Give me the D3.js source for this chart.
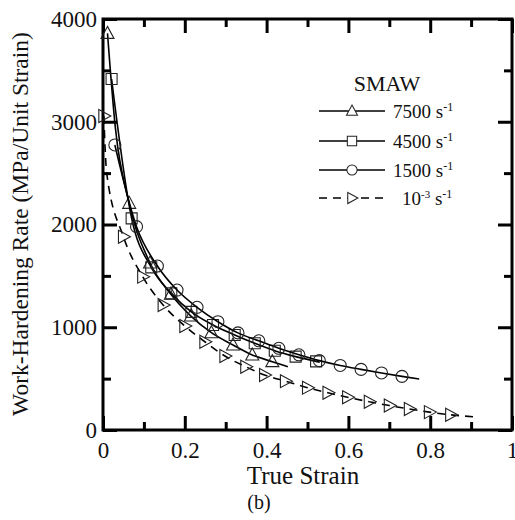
<!DOCTYPE html>
<html>
<head>
<meta charset="utf-8">
<script src="https://cdn.jsdelivr.net/npm/d3@7"></script>
<style>
body { margin: 0; background: #fff; }
text { font-family: "Liberation Serif", "Times New Roman", serif; fill: #111; }
</style>
</head>
<body>
<div id="chart"></div>
<script>
// values: [true strain, work-hardening rate]
var line7500 = [[0.011,3860],[0.03,2950],[0.064,2206],[0.115,1625],[0.166,1321],[0.215,1109],[0.265,947],[0.318,827],[0.365,730],[0.414,665],[0.452,615]];
var marks7500 = [[0.011,3860],[0.064,2206],[0.115,1625],[0.166,1321],[0.215,1109],[0.265,947],[0.318,827],[0.365,730],[0.414,665]];

var line4500 = [[0.021,3416],[0.07,2060],[0.118,1583],[0.167,1330],[0.216,1150],[0.269,1022],[0.322,925],[0.371,844],[0.42,772],[0.471,714],[0.521,668],[0.53,660]];
var marks4500 = [[0.021,3416],[0.07,2060],[0.118,1583],[0.167,1330],[0.216,1150],[0.269,1022],[0.322,925],[0.371,844],[0.42,772],[0.471,714],[0.521,668]];

var line1500 = [[0.029,2774],[0.082,1979],[0.133,1596],[0.181,1362],[0.23,1194],[0.281,1054],[0.33,945],[0.381,868],[0.43,795],[0.479,732],[0.529,675],[0.58,628],[0.631,590],[0.681,555],[0.731,522],[0.773,496]];
var marks1500 = [[0.029,2774],[0.082,1979],[0.133,1596],[0.181,1362],[0.23,1194],[0.281,1054],[0.33,945],[0.381,868],[0.43,795],[0.479,732],[0.529,675],[0.58,628],[0.631,590],[0.681,555],[0.731,522]];

var lineQs = [[0.002,3056],[0.009,2500],[0.05,1881],[0.097,1492],[0.147,1217],[0.2,1012],[0.249,859],[0.298,720],[0.349,616],[0.395,535],[0.446,475],[0.5,412],[0.55,362],[0.598,318],[0.651,275],[0.7,238],[0.749,204],[0.798,174],[0.85,148],[0.907,128]];
var marksQs = [[0.002,3056],[0.05,1881],[0.097,1492],[0.147,1217],[0.2,1012],[0.249,859],[0.298,720],[0.349,616],[0.395,535],[0.446,475],[0.5,412],[0.55,362],[0.598,318],[0.651,275],[0.7,238],[0.749,204],[0.798,174],[0.85,148]];

var xTicks = [0, 0.2, 0.4, 0.6, 0.8, 1];
var xTickLabels = ["0", "0.2", "0.4", "0.6", "0.8", "1"];
var xMinor = [0.1, 0.3, 0.5, 0.7, 0.9];
var yTicks = [0, 1000, 2000, 3000, 4000];
var yMinor = [500, 1500, 2500, 3500];

var legendRates = ["7500", "4500", "1500", "10"];

var svg = d3.select("#chart").append("svg")
	.attr("width", 515)
	.attr("height", 520);

var margin = {top: 19, left: 103},
	width = 409,
	height = 411;

var x = d3.scaleLinear().domain([0, 1]).range([0, width]);
var y = d3.scaleLinear().domain([0, 4000]).range([height, 0]);

var g = svg.append("g")
	.attr("transform", "translate(" + margin.left + "," + margin.top + ")");

// axes: inward ticks on all four sides
function styleAxis(sel) {
	sel.attr("font-family", null).attr("font-size", null);
	sel.select(".domain").remove();
	sel.selectAll(".tick line").attr("stroke", "#000").attr("stroke-width", 3);
	sel.selectAll("text")
		.style("font-family", '"Liberation Serif", serif')
		.style("font-size", "23px")
		.attr("fill", "#111");
}

g.append("g").attr("transform", "translate(0," + height + ")")
	.call(d3.axisBottom(x).tickValues(xTicks).tickSize(-14).tickPadding(12)
		.tickFormat(function(d, i) { return xTickLabels[i]; }))
	.call(styleAxis);
g.append("g").attr("transform", "translate(0," + height + ")")
	.call(d3.axisBottom(x).tickValues(xMinor).tickSize(-8).tickFormat(""))
	.call(styleAxis);
g.append("g")
	.call(d3.axisTop(x).tickValues(xTicks).tickSize(-14).tickFormat(""))
	.call(styleAxis);
g.append("g")
	.call(d3.axisTop(x).tickValues(xMinor).tickSize(-8).tickFormat(""))
	.call(styleAxis);

g.append("g")
	.call(d3.axisLeft(y).tickValues(yTicks).tickSize(-14).tickPadding(6).tickFormat(d3.format("d")))
	.call(styleAxis);
g.append("g")
	.call(d3.axisLeft(y).tickValues(yMinor).tickSize(-8).tickFormat(""))
	.call(styleAxis);
g.append("g").attr("transform", "translate(" + width + ",0)")
	.call(d3.axisRight(y).tickValues(yTicks).tickSize(-14).tickFormat(""))
	.call(styleAxis);
g.append("g").attr("transform", "translate(" + width + ",0)")
	.call(d3.axisRight(y).tickValues(yMinor).tickSize(-8).tickFormat(""))
	.call(styleAxis);

g.append("rect")
	.attr("width", width)
	.attr("height", height)
	.attr("fill", "none")
	.attr("stroke", "#000")
	.attr("stroke-width", 3);

// curves
var line = d3.line()
	.x(function(d) { return x(d[0]); })
	.y(function(d) { return y(d[1]); })
	.curve(d3.curveMonotoneX);

var series = [
	{line: line7500, marks: marks7500, shape: "tri", dash: null},
	{line: line4500, marks: marks4500, shape: "sq", dash: null},
	{line: line1500, marks: marks1500, shape: "circ", dash: null},
	{line: lineQs, marks: marksQs, shape: "right", dash: "8,6"}
];

function markerPath(shape) {
	if (shape === "tri") return "M0,-7L6.5,5L-6.5,5Z";
	if (shape === "sq") return "M-5.5,-5.5H5.5V5.5H-5.5Z";
	if (shape === "right") return "M-5,-6.5L7,0L-5,6.5Z";
	return d3.symbol().type(d3.symbolCircle).size(Math.PI * 36)();
}

series.forEach(function(s) {
	g.append("path")
		.datum(s.line)
		.attr("fill", "none")
		.attr("stroke", "#000")
		.attr("stroke-width", 1.6)
		.attr("stroke-dasharray", s.dash)
		.attr("d", line);

	g.selectAll(null)
		.data(s.marks)
		.enter().append("path")
		.attr("transform", function(d) { return "translate(" + x(d[0]) + "," + y(d[1]) + ")"; })
		.attr("d", markerPath(s.shape))
		.attr("fill", "none")
		.attr("stroke", "#222")
		.attr("stroke-width", 1.1);
});

// legend
var lg = svg.append("g");
lg.append("text")
	.attr("x", 387).attr("y", 91)
	.attr("text-anchor", "middle")
	.style("font-size", "22px")
	.text("SMAW");

var rowY = [111, 141, 170, 198];
series.forEach(function(s, i) {
	lg.append("line")
		.attr("x1", 319).attr("x2", 385)
		.attr("y1", rowY[i]).attr("y2", rowY[i])
		.attr("stroke", "#000")
		.attr("stroke-width", 1.4)
		.attr("stroke-dasharray", s.dash);
	lg.append("path")
		.attr("transform", "translate(352," + rowY[i] + ") scale(0.85)")
		.attr("d", markerPath(s.shape))
		.attr("fill", "#fff")
		.attr("stroke", "#222")
		.attr("stroke-width", 1.2);
	var t = lg.append("text")
		.attr("x", i === 3 ? 402 : 393)
		.attr("y", rowY[i] + 7)
		.style("font-size", "19px");
	t.append("tspan").text(legendRates[i]);
	if (i === 3) {
		t.append("tspan").attr("dy", -7).style("font-size", "11px").text("-3");
		t.append("tspan").attr("dy", 7).text(" s");
	} else {
		t.append("tspan").text(" s");
	}
	t.append("tspan").attr("dy", -7).style("font-size", "12px").text("-1");
});

// axis titles
svg.append("text")
	.attr("x", 303).attr("y", 484)
	.attr("text-anchor", "middle")
	.style("font-size", "25px")
	.text("True Strain");

svg.append("text")
	.attr("transform", "translate(28,224) rotate(-90)")
	.attr("text-anchor", "middle")
	.style("font-size", "23.5px")
	.text("Work-Hardening Rate (MPa/Unit Strain)");

svg.append("text")
	.attr("x", 259).attr("y", 509)
	.attr("text-anchor", "middle")
	.style("font-size", "20px")
	.text("(b)");
</script>
</body>
</html>
